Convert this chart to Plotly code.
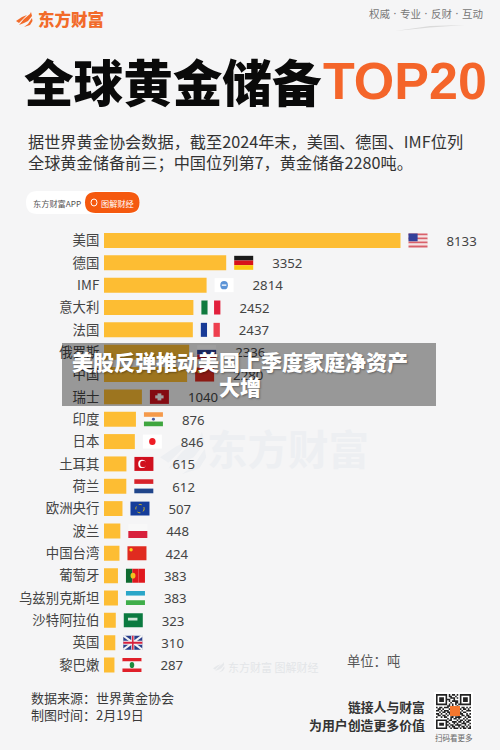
import plotly.graph_objects as go

# 数据
countries = ['美国', '德国', 'IMF', '意大利', '法国', '俄罗斯', '中国', '瑞士', '印度', '日本',
             '土耳其', '荷兰', '欧洲央行', '波兰', '中国台湾', '葡萄牙', '乌兹别克斯坦', '沙特阿拉伯', '英国', '黎巴嫩']
reserves = [8133, 3352, 2814, 2452, 2437, 2336, 2280, 1040, 876, 846,
            615, 612, 507, 448, 424, 383, 383, 323, 310, 287]

W, H = 500, 750
ORANGE = '#F4652A'
CJK = 'Noto Sans CJK SC'
PX_PER_TON = 296.5 / 8133
LABEL_GAP = 46 / PX_PER_TON  # 数值标签和柱子末端的距离

def px(x):
    return x / W

def py(y):
    return 1 - y / H

def text(x, y, s, size, color='#444444', anchor='left', weight=400, family=CJK, **font):
    return dict(x=px(x), y=py(y), xref='paper', yref='paper', text=s, showarrow=False,
                xanchor=anchor, yanchor='middle', borderpad=0,
                font=dict(size=size, color=color, family=family, weight=weight, **font))

def rect(x0, y0, x1, y1, color, **kw):
    return dict(type='rect', xref='paper', yref='paper', x0=px(x0), x1=px(x1), y0=py(y0), y1=py(y1),
                fillcolor=color, line_width=0, **kw)

def poly(points, color):
    path = 'M' + 'L'.join(f'{px(x):.4f},{py(y):.4f}' for x, y in points) + 'Z'
    return dict(type='path', xref='paper', yref='paper', path=path, fillcolor=color, line_width=0)

def pill(x0, y0, x1, y1, color):
    r = (y1 - y0) / 2
    p = (f'M{px(x0 + r)},{py(y0)}L{px(x1 - r)},{py(y0)}Q{px(x1)},{py(y0)} {px(x1)},{py(y0 + r)}'
         f'Q{px(x1)},{py(y1)} {px(x1 - r)},{py(y1)}L{px(x0 + r)},{py(y1)}'
         f'Q{px(x0)},{py(y1)} {px(x0)},{py(y0 + r)}Q{px(x0)},{py(y0)} {px(x0 + r)},{py(y0)}Z')
    return dict(type='path', xref='paper', yref='paper', path=p, fillcolor=color, line_width=0)

def logo(x, y, s, color):
    # 三片叶子的标志
    leaves = [
        [(0, 9), (6, 5), (11, 3), (6, 8), (3, 11)],
        [(3, 13), (8, 7), (14, 2), (15, 0), (16, 4), (12, 9), (8, 11)],
        [(8, 15), (12, 12), (16, 6), (16.5, 9), (14, 13)],
    ]
    return [poly([(x + a * s, y + b * s) for a, b in leaf], color) for leaf in leaves]

# 国旗: 竖条/横条颜色，再加一些小图案
FLAGS = {
    '美国': ('h', ['#D9606A', '#F5E3E3', '#D9606A', '#F5E3E3', '#D9606A', '#F5E3E3', '#D9606A'],
             [('rect', 0, 0, 0.48, 0.55, '#34409A')]),
    '德国': ('h', ['#1A1A1A', '#D8141A', '#FBCB10'], []),
    'IMF': ('h', ['#FFFFFF'], [('circle', 0.3, 0.2, 0.7, 0.8, '#5B93D6'), ('rect', 0.38, 0.44, 0.62, 0.56, '#DCE8F6')]),
    '意大利': ('v', ['#0F7A3E', '#F8F8F8', '#E2203C'], []),
    '法国': ('v', ['#183A96', '#F8F8F8', '#EE3F4E'], []),
    '俄罗斯': ('h', ['#FFFFFF', '#2A3F9A', '#D8232A'], []),
    '中国': ('h', ['#E02B20'], [('circle', 0.12, 0.15, 0.3, 0.4, '#FBD116')]),
    '瑞士': ('h', ['#D5121E'], [('rect', 0.4, 0.25, 0.6, 0.75, '#FFFFFF'), ('rect', 0.28, 0.39, 0.72, 0.61, '#FFFFFF')]),
    '印度': ('h', ['#F59A4B', '#F8F8F8', '#3FA63F'], [('circle', 0.42, 0.4, 0.58, 0.6, '#4A5AA0')]),
    '日本': ('h', ['#FFFFFF'], [('circle', 0.33, 0.25, 0.67, 0.75, '#EE1C25')]),
    '土耳其': ('h', ['#D0101E'], [('circle', 0.2, 0.2, 0.6, 0.8, '#FFFFFF'), ('circle', 0.3, 0.27, 0.62, 0.73, '#D0101E')]),
    '荷兰': ('h', ['#D8232A', '#F8F8F8', '#21468B'], []),
    '欧洲央行': ('h', ['#153C9A'], [('ring', 0.28, 0.2, 0.72, 0.8, '#D8B820')]),
    '波兰': ('h', ['#F8F8F8', '#D8203C'], []),
    '中国台湾': ('h', ['#E02B20'], [('circle', 0.1, 0.12, 0.28, 0.38, '#FBD116')]),
    '葡萄牙': ('v', ['#0F6A30', '#E0181E', '#E0181E'], [('circle', 0.24, 0.3, 0.5, 0.7, '#F0C020')]),
    '乌兹别克斯坦': ('h', ['#2AA6C8', '#F8F8F8', '#3FAE4A'], []),
    '沙特阿拉伯': ('h', ['#0B7A40'], [('rect', 0.22, 0.32, 0.72, 0.52, '#CFE5D8')]),
    '英国': ('h', ['#2A3F8A'], [('line', 0, 0, 1, 1, '#F4F4F4'), ('line', 0, 1, 1, 0, '#F4F4F4'),
                              ('rect', 0.0, 0.36, 1, 0.64, '#F4F4F4'), ('rect', 0.42, 0, 0.58, 1, '#F4F4F4'),
                              ('rect', 0, 0.43, 1, 0.57, '#D8203C'), ('rect', 0.46, 0, 0.54, 1, '#D8203C')]),
    '黎巴嫩': ('h', ['#E0202A', '#F8F8F8', '#F8F8F8', '#E0202A'], [('circle', 0.38, 0.28, 0.62, 0.72, '#1E8A3E')]),
}

FLAG_X0, FLAG_W, FLAG_H = 8, 19, 14

def flag_shape(name, value, kind, a, b, c, d, color):
    x0 = FLAG_X0 + a * FLAG_W
    x1 = FLAG_X0 + c * FLAG_W
    y0 = FLAG_H / 2 - b * FLAG_H
    y1 = FLAG_H / 2 - d * FLAG_H
    s = dict(type=kind if kind in ('rect', 'line') else 'circle', xref='x', yref='y',
             xsizemode='pixel', ysizemode='pixel', xanchor=value, yanchor=name,
             x0=x0, x1=x1, y0=y0, y1=y1)
    if kind == 'ring':
        s.update(fillcolor='rgba(0,0,0,0)', line=dict(color=color, width=1, dash='dot'))
    elif kind == 'line':
        s.update(line=dict(color=color, width=2))
    else:
        s.update(fillcolor=color, line_width=0)
    return s

shapes = []
for name, value in zip(countries, reserves):
    direction, stripes, marks = FLAGS[name]
    n = len(stripes)
    for i, color in enumerate(stripes):
        if direction == 'h':
            shapes.append(flag_shape(name, value, 'rect', 0, i / n, 1, (i + 1) / n, color))
        else:
            shapes.append(flag_shape(name, value, 'rect', i / n, 0, (i + 1) / n, 1, color))
    for m in marks:
        shapes.append(flag_shape(name, value, *m))

# 水印和顶部标志放在最下层
under = logo(160, 432, 2.8, '#EDEFF2') + logo(213, 662, 0.7, '#E6E8EB')
for s in under:
    s['layer'] = 'below'
shapes = under + shapes

shapes += logo(16, 12, 1.0, '#F26B2A')
shapes.append(poly([(395, 31), (430, 26), (465, 25), (430, 27.5)], '#DADADA'))
shapes.append(pill(26, 191, 140, 214, '#FFFFFF'))
shapes.append(pill(85, 192, 139.5, 213, '#F5590F'))
shapes.append(dict(type='circle', xref='paper', yref='paper', x0=px(91), x1=px(97), y0=py(199), y1=py(206),
                   fillcolor='rgba(0,0,0,0)', line=dict(color='#FFFFFF', width=1)))

# 二维码
QR = ['1111111010110101111111', '1000001011001001000001', '1011101001110101011101', '1011101110010001011101',
      '1011101010111101011101', '1000001001001101000001', '1111111010101011111111', '0000000110100100000000',
      '1011011101101110110101', '0110100011011001011010', '1101011100110110100111', '0010110111001011011000',
      '1101001011011101100101', '0110110100110010110110', '1001011001101111001011', '0000000101011010010100',
      '1111111011000101101011', '1000001100111011010110', '1011101010010100111001', '1011101101101111001010',
      '1000001010110010110101', '1111111001011101011011']
shapes.append(rect(434, 692, 473, 730, '#FFFFFF'))
cell = 35 / len(QR)
qr_path = ''
for r, row in enumerate(QR):
    for c, bit in enumerate(row):
        if bit == '1':
            x0, y0 = 436 + c * cell, 694 + r * cell
            qr_path += (f'M{px(x0):.4f},{py(y0):.4f}L{px(x0 + cell):.4f},{py(y0):.4f}'
                        f'L{px(x0 + cell):.4f},{py(y0 + cell):.4f}L{px(x0):.4f},{py(y0 + cell):.4f}Z')
shapes.append(dict(type='path', xref='paper', yref='paper', path=qr_path, fillcolor='#222222', line_width=0))
shapes.append(rect(450, 706, 460, 716, '#F4772E'))

# 半透明标题条
shapes.append(rect(62, 343, 436, 406, 'rgba(0,0,0,0.38)'))

SHADOW = '1px 1px 2px rgba(0,0,0,0.35)'
annotations = [
    text(37, 19, '东方财富', 16.5, '#F26B2A', weight=900),
    text(368, 14, '权威 · 专业 · 反财 · 互动', 10.5, '#777777', family='DejaVu Serif, ' + CJK),
    text(23, 80, '全球黄金储备', 49.6, '#0A0A0A', weight=900),
    text(322, 81, 'TOP20', 52, ORANGE, weight=700, family='Liberation Sans'),
    text(27, 141, '据世界黄金协会数据，截至2024年末，美国、德国、IMF位列', 16.2, '#333333'),
    text(27, 162, '全球黄金储备前三；中国位列第7，黄金储备2280吨。', 16.2, '#333333'),
    text(32, 203, '东方财富APP', 8.2, '#555555'),
    text(100, 203, '图解财经', 8.2, '#FFFFFF'),
    text(206, 447, '东方财富', 40.5, '#EDEFF2', weight=700),
    text(227, 667, '东方财富 图解财经', 11, '#E3E5E8'),
    text(346, 660, '单位：吨', 13.3, '#555555'),
    text(30, 697, '数据来源：世界黄金协会', 13, '#3A3A3A'),
    text(30, 714, '制图时间：2月19日', 13, '#3A3A3A'),
    text(426, 706, '链接人与财富', 12.8, '#333333', anchor='right', weight=700),
    text(426, 724, '为用户创造更多价值', 12.9, '#333333', anchor='right', weight=700),
    text(454, 737, '扫码看更多', 7.5, '#666666', anchor='center'),
    text(240, 361, '美股反弹推动美国上季度家庭净资产', 21, '#FFFFFF', anchor='center', weight=900, shadow=SHADOW),
    text(240, 386, '大增', 21, '#FFFFFF', anchor='center', weight=900, shadow=SHADOW),
]

y_range = [len(countries) - 0.5, -0.5]
y_top, y_bottom = 229.3, 676.2
LABEL_DROP = 2  # 数值比柱子中心略低

fig = go.Figure()
fig.add_trace(go.Bar(x=reserves, y=countries, orientation='h', marker_color='#FDBD33', marker_line_width=0,
                     hoverinfo='skip'))
fig.add_trace(go.Scatter(x=[v + LABEL_GAP for v in reserves], y=countries, yaxis='y2', mode='text',
                         text=[str(v) for v in reserves], textposition='middle right',
                         textfont=dict(size=13.2, color='#444444', family='Noto Sans'),
                         cliponaxis=False, hoverinfo='skip'))

fig.update_layout(
    width=W, height=H, margin=dict(l=0, r=0, t=0, b=0),
    paper_bgcolor='#F5F5F6', plot_bgcolor='rgba(0,0,0,0)',
    showlegend=False, bargap=0.33,
    shapes=shapes, annotations=annotations,
    xaxis=dict(domain=[104 / W, 1], range=[0, (W - 104) / PX_PER_TON], visible=False, fixedrange=True),
    yaxis=dict(domain=[1 - y_bottom / H, 1 - y_top / H], type='category', categoryorder='array',
               categoryarray=countries, range=y_range,
               showline=False, showgrid=False, zeroline=False, ticks='outside', ticklen=1,
               tickcolor='rgba(0,0,0,0)', fixedrange=True,
               tickfont=dict(size=13.4, color='#444444', family=CJK)),
    yaxis2=dict(domain=[1 - (y_bottom + LABEL_DROP) / H, 1 - (y_top + LABEL_DROP) / H], type='category',
                categoryorder='array', categoryarray=countries, range=y_range,
                anchor='x', visible=False, fixedrange=True),
)

fig.write_html("out.html", config=dict(displayModeBar=False),
               post_script="document.body.style.margin='0';")
